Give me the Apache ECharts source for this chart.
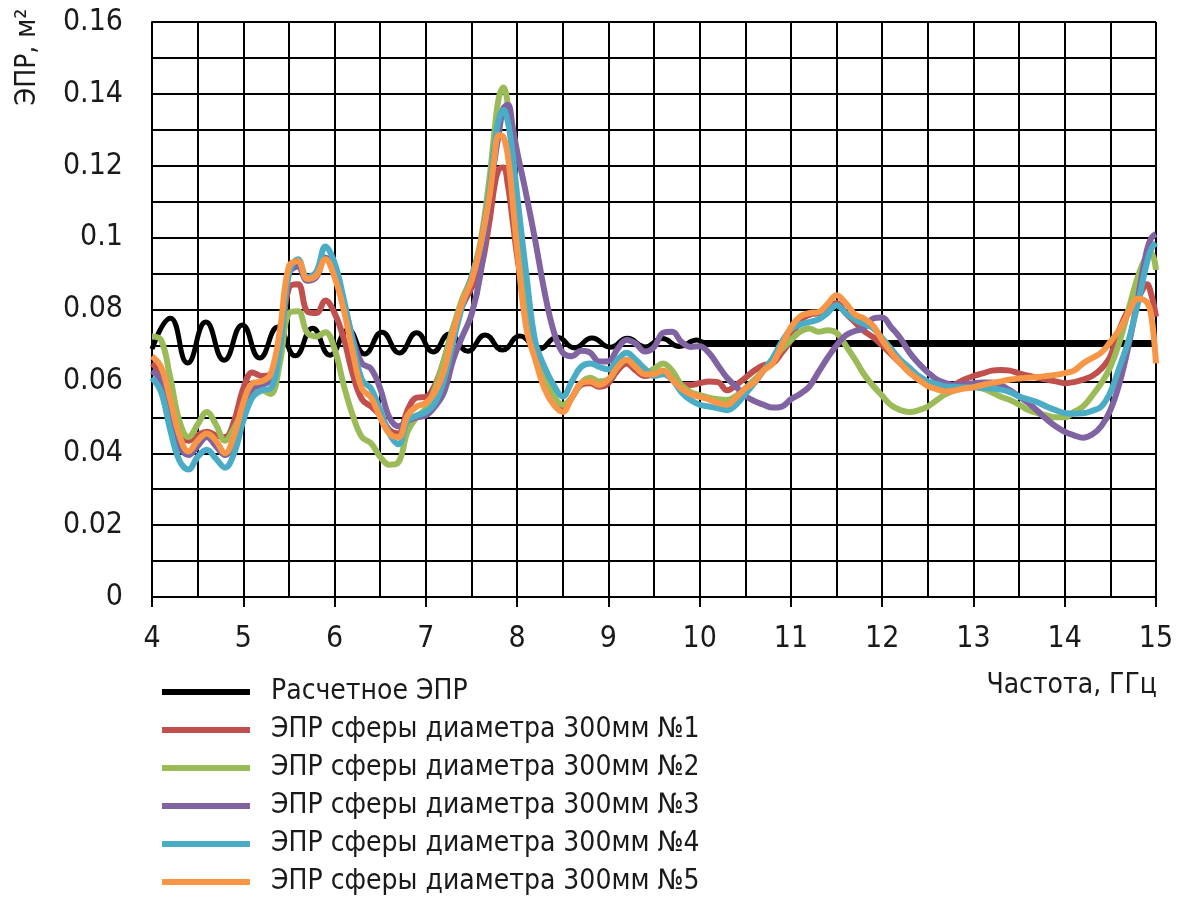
<!DOCTYPE html>
<html>
<head>
<meta charset="utf-8">
<script src="https://cdn.jsdelivr.net/npm/echarts@6/dist/echarts.min.js"></script>
<style>
html,body{margin:0;padding:0;background:#fff;}
#chart{width:1179px;height:897px;}
</style>
</head>
<body>
<div id="chart"></div>
<script>
// Frequency grid (GHz) for measured curves
var freq = [
  4.0, 4.1, 4.2, 4.3, 4.4, 4.5, 4.6, 4.7, 4.8, 4.9,
  5.0, 5.1, 5.2, 5.3, 5.4, 5.5, 5.6, 5.7, 5.8, 5.9,
  6.0, 6.1, 6.2, 6.3, 6.4, 6.5, 6.6, 6.7, 6.8, 6.9,
  7.0, 7.1, 7.2, 7.3, 7.4, 7.5, 7.6, 7.7,
  7.75, 7.8, 7.85, 7.9, 7.95,
  8.0, 8.1, 8.2, 8.3, 8.4, 8.5, 8.6, 8.7, 8.8, 8.9,
  9.0, 9.1, 9.2, 9.3, 9.4, 9.5, 9.6, 9.7, 9.8, 9.9,
  10.0, 10.1, 10.2, 10.3, 10.4, 10.5, 10.6, 10.7, 10.8, 10.9,
  11.0, 11.1, 11.2, 11.3, 11.4, 11.5, 11.6, 11.7, 11.8, 11.9,
  12.0, 12.1, 12.2, 12.3, 12.4, 12.5, 12.6, 12.7, 12.8, 12.9,
  13.0, 13.1, 13.2, 13.3, 13.4, 13.5, 13.6, 13.7, 13.8, 13.9,
  14.0, 14.1, 14.2, 14.3, 14.4, 14.5, 14.6, 14.7, 14.8, 14.9,
  14.95, 15.0
];

var sphere1 = [
  0.065, 0.062, 0.054, 0.046, 0.0435, 0.045, 0.046, 0.045, 0.0445, 0.049,
  0.058, 0.0625, 0.0615, 0.062, 0.070, 0.086, 0.087, 0.0795, 0.079, 0.0825,
  0.079, 0.072, 0.062, 0.055, 0.053, 0.0505, 0.0465, 0.0455, 0.052, 0.0555,
  0.0557, 0.059, 0.066, 0.075, 0.081, 0.086, 0.091, 0.105,
  0.114, 0.119, 0.1195, 0.1145, 0.105,
  0.095, 0.079, 0.067, 0.059, 0.0545, 0.0525, 0.0555, 0.059, 0.0595, 0.0585,
  0.0595, 0.063, 0.065, 0.063, 0.0615, 0.062, 0.0625, 0.0605, 0.059, 0.059,
  0.0595, 0.060, 0.0598, 0.0575, 0.059, 0.061, 0.063, 0.0645, 0.065, 0.068,
  0.0715, 0.077, 0.0785, 0.079, 0.080, 0.0818, 0.079, 0.0765, 0.074, 0.0723,
  0.070, 0.0675, 0.065, 0.0625, 0.0605, 0.0595, 0.0585, 0.058, 0.0592, 0.0605,
  0.0615, 0.0622, 0.063, 0.0632, 0.063, 0.0622, 0.0616, 0.061, 0.0605, 0.060,
  0.0595, 0.0598, 0.0605, 0.0615, 0.0635, 0.067, 0.0745, 0.080, 0.083, 0.087,
  0.084, 0.078
];

var sphere2 = [
  0.0725, 0.0715, 0.061, 0.049, 0.0445, 0.048, 0.0515, 0.048, 0.0435, 0.047,
  0.052, 0.056, 0.0575, 0.0565, 0.065, 0.079, 0.0795, 0.0735, 0.0725, 0.0737,
  0.069, 0.059, 0.0505, 0.0445, 0.0428, 0.039, 0.0368, 0.0375, 0.046, 0.050,
  0.0525, 0.058, 0.066, 0.075, 0.083, 0.089, 0.099, 0.117,
  0.129, 0.139, 0.1418, 0.1365, 0.1216,
  0.1085, 0.0865, 0.070, 0.062, 0.056, 0.0535, 0.0555, 0.0595, 0.061, 0.060,
  0.0605, 0.064, 0.066, 0.064, 0.0625, 0.0635, 0.065, 0.063, 0.059, 0.057,
  0.0562, 0.0555, 0.055, 0.0548, 0.056, 0.058, 0.0605, 0.063, 0.066, 0.069,
  0.0715, 0.0738, 0.0747, 0.0738, 0.0742, 0.0735, 0.070, 0.0662, 0.062, 0.0588,
  0.056, 0.0533, 0.052, 0.0515, 0.052, 0.053, 0.0548, 0.0565, 0.0575, 0.0582,
  0.0584, 0.058, 0.057, 0.0557, 0.0548, 0.0535, 0.052, 0.0512, 0.0505, 0.050,
  0.050, 0.0515, 0.053, 0.056, 0.0595, 0.064, 0.071, 0.080, 0.089, 0.095,
  0.0955, 0.091
];

var sphere3 = [
  0.063, 0.060, 0.051, 0.042, 0.0395, 0.042, 0.0445, 0.042, 0.0395, 0.0435,
  0.052, 0.058, 0.059, 0.0605, 0.071, 0.090, 0.092, 0.088, 0.089, 0.0945,
  0.091, 0.082, 0.072, 0.065, 0.0635, 0.058, 0.050, 0.0475, 0.049, 0.050,
  0.0505, 0.053, 0.057, 0.066, 0.0725, 0.0785, 0.090, 0.112,
  0.121, 0.129, 0.136, 0.137, 0.131,
  0.124, 0.112, 0.099, 0.085, 0.074, 0.068, 0.067, 0.0685, 0.068, 0.0655,
  0.0656, 0.069, 0.0715, 0.0705, 0.0683, 0.0695, 0.0735, 0.0738, 0.071, 0.0696,
  0.0698, 0.068, 0.0645, 0.061, 0.0585, 0.056, 0.0545, 0.0535, 0.0527, 0.053,
  0.055, 0.0565, 0.0585, 0.0625, 0.0665, 0.070, 0.0728, 0.074, 0.0748, 0.0775,
  0.0778, 0.075, 0.072, 0.068, 0.065, 0.0625, 0.0605, 0.0595, 0.059, 0.0592,
  0.0595, 0.0597, 0.0597, 0.059, 0.0575, 0.0558, 0.054, 0.0518, 0.0495, 0.0475,
  0.046, 0.045, 0.0443, 0.0452, 0.0475, 0.052, 0.0595, 0.070, 0.083, 0.0965,
  0.100, 0.101
];

var sphere4 = [
  0.061, 0.057, 0.0465, 0.038, 0.0355, 0.039, 0.041, 0.0385, 0.036, 0.040,
  0.049, 0.0555, 0.0575, 0.058, 0.069, 0.090, 0.094, 0.089, 0.0905, 0.0975,
  0.093, 0.083, 0.071, 0.0605, 0.058, 0.052, 0.0455, 0.0425, 0.049, 0.0505,
  0.0515, 0.054, 0.0605, 0.071, 0.081, 0.089, 0.098, 0.114,
  0.125, 0.133, 0.1355, 0.132, 0.1235,
  0.112, 0.090, 0.071, 0.064, 0.059, 0.0558, 0.060, 0.064, 0.065, 0.064,
  0.0633, 0.066, 0.068, 0.066, 0.0635, 0.0615, 0.062, 0.0605, 0.057, 0.0548,
  0.0535, 0.053, 0.0525, 0.052, 0.0535, 0.0565, 0.0595, 0.063, 0.0665, 0.071,
  0.0745, 0.0758, 0.0765, 0.0772, 0.079, 0.0812, 0.079, 0.0772, 0.076, 0.0748,
  0.072, 0.069, 0.066, 0.0638, 0.0615, 0.060, 0.0592, 0.0586, 0.0585, 0.0584,
  0.0584, 0.0582, 0.058, 0.0577, 0.057, 0.0558, 0.055, 0.0542, 0.053, 0.052,
  0.0512, 0.051, 0.0511, 0.0518, 0.053, 0.057, 0.064, 0.0715, 0.0815, 0.093,
  0.097, 0.0985
];

var sphere5 = [
  0.067, 0.064, 0.055, 0.045, 0.0405, 0.0435, 0.0455, 0.0435, 0.040, 0.045,
  0.054, 0.0595, 0.060, 0.062, 0.074, 0.092, 0.0935, 0.0885, 0.0895, 0.094,
  0.089, 0.080, 0.068, 0.058, 0.0555, 0.050, 0.0455, 0.0445, 0.0505, 0.053,
  0.054, 0.057, 0.063, 0.0735, 0.082, 0.088, 0.098, 0.112,
  0.122, 0.1285, 0.128, 0.1225, 0.1105,
  0.097, 0.075, 0.066, 0.058, 0.0535, 0.0515, 0.0555, 0.0595, 0.060, 0.059,
  0.0605, 0.064, 0.066, 0.064, 0.062, 0.062, 0.063, 0.0605, 0.058, 0.0565,
  0.0557, 0.055, 0.054, 0.0535, 0.0555, 0.058, 0.0598, 0.063, 0.065, 0.070,
  0.075, 0.078, 0.079, 0.0793, 0.0815, 0.084, 0.0818, 0.0787, 0.0775, 0.0755,
  0.0715, 0.068, 0.065, 0.0625, 0.0605, 0.0587, 0.0578, 0.0572, 0.0575, 0.058,
  0.0584, 0.059, 0.0595, 0.060, 0.0605, 0.0608, 0.061, 0.0612, 0.0615, 0.0618,
  0.0623, 0.063, 0.065, 0.0665, 0.068, 0.071, 0.0745, 0.079, 0.083, 0.082,
  0.078, 0.065
];

// Calculated RCS: extrema of the oscillation, then flat
var calcFreq = [
  4.0, 4.2, 4.39, 4.59, 4.79, 4.99, 5.18, 5.38, 5.57, 5.76,
  5.95, 6.15, 6.33, 6.52, 6.71, 6.9, 7.08, 7.26, 7.46, 7.65,
  7.84, 8.03, 8.24, 8.44, 8.63, 8.82, 9.02, 9.21, 9.4, 9.59,
  9.78, 9.97, 10.05, 15.0
];
var calcValues = [
  0.069, 0.0776, 0.0651, 0.0765, 0.0659, 0.0757, 0.0665, 0.0751, 0.0671, 0.0748,
  0.0673, 0.0743, 0.0676, 0.0737, 0.0679, 0.0735, 0.0682, 0.0732, 0.0684, 0.0729,
  0.0687, 0.0726, 0.069, 0.0723, 0.0693, 0.0721, 0.0695, 0.072, 0.0696, 0.0719,
  0.0697, 0.0715, 0.0708, 0.0708
];

var seriesNames = [
  'Расчетное ЭПР',
  'ЭПР сферы диаметра 300мм №1',
  'ЭПР сферы диаметра 300мм №2',
  'ЭПР сферы диаметра 300мм №3',
  'ЭПР сферы диаметра 300мм №4',
  'ЭПР сферы диаметра 300мм №5'
];
var colors = ['#000000', '#C0504D', '#9BBB59', '#8064A2', '#4BACC6', '#F79646'];
var yTickLabels = ['0', '0.02', '0.04', '0.06', '0.08', '0.1', '0.12', '0.14', '0.16'];

var FONT = "'Liberation Sans Narrow', 'DejaVu Sans Condensed', 'Roboto', sans-serif";

function pairs(xs, ys) {
  return xs.map(function (x, i) { return [x, ys[i]]; });
}

var measured = [sphere1, sphere2, sphere3, sphere4, sphere5];
var series = [{
  name: seriesNames[0],
  type: 'line',
  data: pairs(calcFreq, calcValues),
  showSymbol: false,
  smooth: 0.5,
  lineStyle: { width: 5, color: colors[0] },
  z: 2
}];
measured.forEach(function (vals, k) {
  series.push({
    name: seriesNames[k + 1],
    type: 'line',
    data: pairs(freq, vals),
    showSymbol: false,
    smooth: 0.4,
    lineStyle: { width: 6, color: colors[k + 1] },
    z: 3 + k
  });
});

var chart = echarts.init(document.getElementById('chart'), null, { renderer: 'canvas' });
chart.setOption({
  animation: false,
  backgroundColor: '#ffffff',
  color: colors,
  textStyle: { fontFamily: FONT, color: '#1a1a1a' },
  grid: { left: 152, right: 23, top: 22, bottom: 300, containLabel: false },
  xAxis: {
    type: 'value',
    min: 4, max: 15, interval: 1,
    axisLine: { show: true, onZero: false, lineStyle: { color: '#000', width: 2 } },
    axisTick: { show: true, length: 10, lineStyle: { color: '#000', width: 2 } },
    axisLabel: { fontFamily: FONT, fontSize: 30, color: '#1a1a1a', margin: 27 },
    splitLine: { show: true, lineStyle: { color: '#000', width: 2 } },
    minorTick: { show: false, splitNumber: 2 },
    minorSplitLine: { show: true, lineStyle: { color: '#000', width: 2 } }
  },
  yAxis: {
    type: 'value',
    min: 0, max: 0.16, interval: 0.02,
    axisLine: { show: true, lineStyle: { color: '#000', width: 2 } },
    axisTick: { show: false },
    axisLabel: {
      fontFamily: FONT, fontSize: 30, color: '#1a1a1a', margin: 29,
      formatter: function (v) { return yTickLabels[Math.round(v / 0.02)]; }
    },
    splitLine: { show: true, lineStyle: { color: '#000', width: 2 } },
    minorTick: { show: false, splitNumber: 2 },
    minorSplitLine: { show: true, lineStyle: { color: '#000', width: 2 } }
  },
  legend: {
    orient: 'vertical',
    left: 162, top: 678, height: 219,
    padding: 0,
    itemWidth: 88, itemHeight: 6, itemGap: 10,
    icon: 'rect',
    data: seriesNames,
    textStyle: { fontFamily: FONT, fontSize: 28, color: '#1a1a1a', padding: [0, 0, 0, 16] }
  },
  graphic: [
    {
      type: 'text', x: 28, y: 57, rotation: Math.PI / 2,
      style: { text: 'ЭПР, м²', font: "28px " + FONT, fill: '#1a1a1a', textAlign: 'center', textVerticalAlign: 'middle' }
    },
    {
      type: 'text', x: 1157, y: 686,
      style: { text: 'Частота, ГГц', font: "28px " + FONT, fill: '#1a1a1a', textAlign: 'right', textVerticalAlign: 'middle' }
    }
  ],
  series: series
});
</script>
</body>
</html>
